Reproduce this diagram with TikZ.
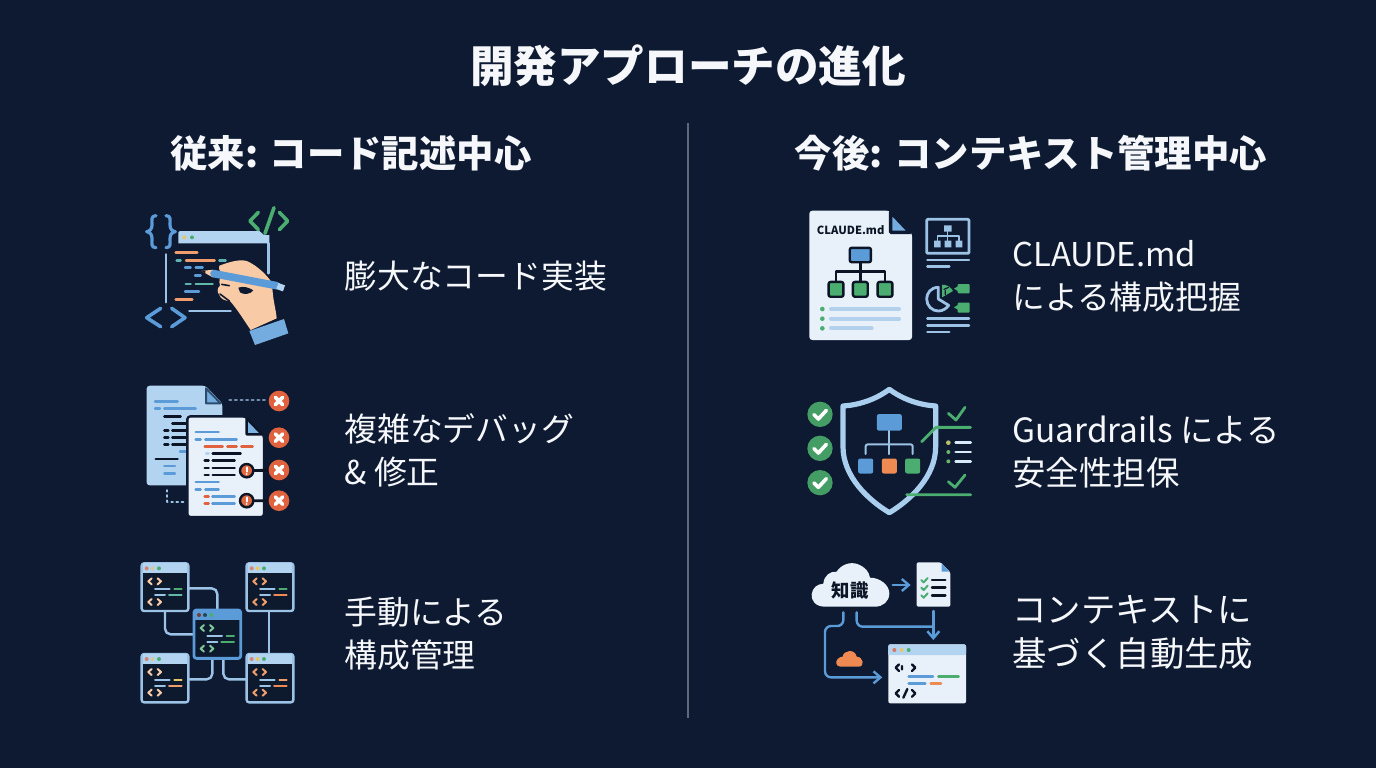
\documentclass[tikz,border=0pt]{standalone}
\usepackage{fontspec}
\usetikzlibrary{arrows.meta,calc}
\setmainfont{Noto Sans CJK JP}
\definecolor{bgc}{HTML}{0D1A31}
\definecolor{txt}{HTML}{F5F7FA}
\definecolor{divc}{HTML}{5D6878}
\definecolor{lblue}{HTML}{9CC3E6}
\definecolor{pblue}{HTML}{B3D4F0}
\definecolor{mblue}{HTML}{5B9BD8}
\definecolor{grn}{HTML}{4BAE70}
\definecolor{org}{HTML}{EE8A52}
\definecolor{red}{HTML}{E0623F}
\definecolor{paper}{HTML}{E8F1FA}
\definecolor{ink}{HTML}{0C1526}
\definecolor{peach}{HTML}{F8CBA6}
\definecolor{teal}{HTML}{5FB8A8}
\definecolor{yel}{HTML}{E6C766}
\definecolor{pane}{HTML}{0D1A2E}
\tikzset{
  ic/.style={x=0.16667pt,y=-0.16667pt},
  ln/.style={line width=#1*0.2pt,line cap=round,line join=round},
  ln/.default=6,
  bodytext/.style={text=txt,anchor=west,align=left,inner sep=0pt,font=\fontsize{16.4}{21.5}\selectfont},
  headtext/.style={text=txt,inner sep=0pt,font=\bfseries\fontsize{18.7}{22}\selectfont},
  win/.style={draw=lblue,ln=6,fill=pane,rounded corners=1.2pt},
}
% small window of the network icon: x, y, tag colour, two code colours, title colour, two dot colours
\newcommand{\netwin}[8]{%
  \fill[#6] (#1,#2) ++(3,-1) rectangle ++(134,31);
  \fill[#7] (#1+15,#2+15) circle (6);\fill[#8] (#1+33,#2+15) circle (6);\fill[grn] (#1+52,#2+15) circle (6);
  \draw[#3,ln=5] (#1+30,#2+45)--(#1+20,#2+54)--(#1+30,#2+63) (#1+48,#2+45)--(#1+58,#2+54)--(#1+48,#2+63);
  \draw[#3,ln=5] (#1+30,#2+107)--(#1+20,#2+116)--(#1+30,#2+125) (#1+48,#2+107)--(#1+58,#2+116)--(#1+48,#2+125);
  \draw[lblue,ln=5] (#1+40,#2+77)--(#1+84,#2+77) (#1+40,#2+95)--(#1+70,#2+95);
  \draw[#4,ln=5] (#1+98,#2+77)--(#1+120,#2+77);
  \draw[#5,ln=5] (#1+82,#2+95)--(#1+120,#2+95);
}
\begin{document}
\begin{tikzpicture}[x=0.5pt,y=-0.5pt]
\useasboundingbox (0,0) rectangle (1376,768);
\fill[bgc] (0,0) rectangle (1376,768);
\node[text=txt,inner sep=0pt,font=\bfseries\fontsize{21.8}{26}\selectfont] (title) at (688,66) {開発アプローチの進化};
\node[headtext] (headL) at (351,153) {従来: コード記述中心};
\node[headtext] (headR) at (1031,153) {今後: コンテキスト管理中心};
\coordinate (divT) at (688,123);
\coordinate (divB) at (688,718);
\draw[divc,line width=1pt] (divT) -- (divB);

\node[bodytext] (t1) at (344,276) {膨大なコード実装};
\node[bodytext] (t2) at (344,450.5) {複雑なデバッグ\\\& 修正};
\node[bodytext] (t3) at (344,633.5) {手動による\\構成管理};
\node[bodytext] (t4) at (1012,276) {CLAUDE.md\\による構成把握};
\node[bodytext,font=\fontsize{16.7}{21.5}\selectfont] (t5) at (1012,452) {Guardrails による\\安全性担保};
\node[bodytext,font=\fontsize{17.2}{22}\selectfont] (t6) at (1012,632) {コンテキストに\\基づく自動生成};

% ---------- icon 1
\begin{scope}[shift={(130,195)},ic]
\draw[mblue,ln=8] (78,62) .. controls (62,62) and (66,75) .. (66,90) .. controls (66,102) and (60,108) .. (50,110) .. controls (60,112) and (66,118) .. (66,130) .. controls (66,145) and (62,158) .. (78,158);
\draw[mblue,ln=8] (108,62) .. controls (124,62) and (120,75) .. (120,90) .. controls (120,102) and (126,108) .. (136,110) .. controls (126,112) and (120,118) .. (120,130) .. controls (120,145) and (124,158) .. (108,158);
\draw[grn,ln=9] (385,52)--(360,78)--(385,104) (432,38)--(405,115) (448,52)--(473,78)--(448,104);
\draw[lblue,ln=6] (108,178)--(108,322) (415,145)--(415,235) (178,348)--(302,348);
\fill[pblue] (145,113) to[out=90,in=180] (152,108) -- (388,108) -- (402,120) -- (418,120) -- (418,145) -- (145,145) -- cycle;
\fill[yel] (163,127) circle (6);
\fill[grn] (186,127) circle (6);
\begin{scope}[ln=6]
\draw[org!85!white] (137,172)--(202,172) (168,196)--(254,196) (137,313)--(187,313);
\draw[teal!80!mblue] (140,196)--(152,196) (268,196)--(287,196) (167,267)--(182,267);
\draw[mblue] (165,218)--(182,218) (197,218)--(218,218) (195,242)--(212,242) (165,290)--(207,290);
\draw[teal] (197,267)--(248,267);
\end{scope}
\draw[mblue,ln=9] (92,340)--(50,368)--(92,395) (125,340)--(165,368)--(125,395);
% hand
\fill[peach] (268,212) .. controls (300,200) and (335,190) .. (355,200) .. controls (385,215) and (410,240) .. (425,262) -- (428,290) .. controls (430,320) and (438,345) .. (440,370) -- (362,405) .. controls (345,380) and (320,340) .. (300,318) .. controls (285,318) and (272,312) .. (268,300) .. controls (260,290) and (262,278) .. (270,272) .. controls (265,255) and (270,245) .. (280,240) .. controls (270,232) and (265,222) .. (268,212) -- cycle;
\draw[bgc,ln=4] (275,268)--(298,272) (270,297)--(298,318);
\fill[bgc] (325,278) .. controls (340,272) and (358,278) .. (370,286) .. controls (362,298) and (340,300) .. (330,292) -- cycle;
\fill[mblue!70!pblue] (358,408)--(462,372)--(475,415)--(375,450)--cycle;
\fill[peach] (214,228)--(250,224)--(250,248)--cycle;
\fill[ink] (214,228)--(226,227)--(226,235)--cycle;
\draw[mblue,line width=3.8pt,line cap=round] (252,236)--(440,272);
\draw[pblue,line width=3.2pt,line cap=butt] (442,273)--(462,280);
\end{scope}

% ---------- icon 2
\begin{scope}[shift={(130,375)},ic]
\fill[pblue,rounded corners=1.5pt] (50,32)--(226,32)--(277,85)--(277,331)--(50,331)--cycle;
\draw[ink!60!mblue,fill=mblue!70!pblue,ln=5] (228,40)--(272,85)--(228,85)--cycle;
\draw[mblue,ln=6] (75,80)--(143,80) (75,101)--(90,101) (103,101)--(197,101) (150,229)--(195,229) (103,273)--(135,273) (103,295)--(135,295);
\draw[ink,ln=6] (103,124)--(152,124) (127,145)--(170,145) (103,166)--(115,166) (127,166)--(170,166) (103,188)--(115,188) (127,188)--(170,188) (103,209)--(115,209) (127,209)--(170,209) (77,252)--(143,252);
\draw[bgc,fill=paper,ln=6,rounded corners=1.5pt] (172,124)--(347,124)--(402,180)--(402,426)--(172,426)--cycle;
\draw[ink,fill=mblue!60!pblue,ln=6,line join=round] (350,130)--(396,178)--(350,178)--cycle;
\draw[mblue,ln=6] (197,171)--(266,171) (197,193)--(212,193) (226,193)--(320,193) (197,321)--(266,321) (197,343)--(212,343) (226,343)--(266,343) (247,365)--(314,365) (247,386)--(314,386);
\draw[pblue,ln=6] (228,236)--(236,236);
\draw[red,ln=6] (224,214)--(278,214) (292,214)--(320,214) (334,214)--(368,214) (224,365)--(236,365) (224,386)--(236,386);
\draw[ink,ln=6] (248,236)--(332,236) (224,257)--(236,257) (248,257)--(314,257) (224,279)--(236,279) (248,279)--(314,279) (224,300)--(236,300) (248,300)--(314,300);
\coordinate (xa) at (447,78);
\coordinate (xb) at (447,188);
\coordinate (xc) at (447,285);
\coordinate (xd) at (447,377);
\coordinate (ea) at (350,287);
\coordinate (eb) at (350,377);
\draw[ink,ln=7] (ea)--(xc) (eb)--(xd);
\draw[lblue!70!bgc,ln=5,dash pattern=on 1pt off 1.8pt] (298,76)--(405,76);
\draw[lblue,ln=5,dash pattern=on 0.8pt off 1.8pt] (112,345)--(112,380)--(160,380);
\foreach \p in {xa,xb,xc,xd}{
  \fill[red] (\p) circle (31);
  \draw[white,ln=9] ($(\p)+(-11,-11)$)--($(\p)+(11,11)$) ($(\p)+(-11,11)$)--($(\p)+(11,-11)$);
}
\foreach \p in {ea,eb}{
  \draw[ink,fill=red!85!org,ln=6] (\p) circle (20);
  \draw[white,ln=5] ($(\p)+(0,-10)$)--($(\p)+(0,3)$);
  \fill[white] ($(\p)+(0,10)$) circle (3);
}
\end{scope}

% ---------- icon 3
\begin{scope}[shift={(130,555)},ic]
\coordinate (wa) at (35,25);
\coordinate (wb) at (350,25);
\coordinate (wc) at (192,165);
\coordinate (wd) at (35,297);
\coordinate (we) at (350,297);
\draw[lblue,ln=6,rounded corners=2.8pt]
  (175,100)--(262,100)--(262,165)
  (105,168)--(105,238)--(192,238)
  (175,373)--(247,373)--(247,310)
  (280,310)--(280,373)--(350,373);
\draw[lblue,ln=6] (417,168)--(417,297);
\draw[win] (wa) rectangle ++(140,143);
\draw[win] (wb) rectangle ++(140,143);
\draw[win] (wd) rectangle ++(140,145);
\draw[win] (we) rectangle ++(140,145);
\draw[win,draw=mblue,ln=7] (wc) rectangle ++(140,145);
\netwin{35}{25}{peach}{grn}{teal}{pblue}{red!70!pblue}{yel!60!pblue}
\netwin{350}{25}{org!70!peach}{grn}{org}{pblue}{red!70!pblue}{yel}
\netwin{192}{165}{grn!70!white}{grn}{grn}{mblue}{red!50!ink}{teal!30!ink}
\netwin{35}{297}{peach}{yel}{org!70!peach}{pblue}{red!70!pblue}{yel!60!pblue}
\netwin{350}{297}{org!70!peach}{org!70!peach}{org}{pblue}{red!70!pblue}{yel}
\end{scope}

% ---------- icon 4
\begin{scope}[shift={(800,200)},ic]
\fill[paper,rounded corners=1.5pt] (28,32)--(268,32)--(336,100)--(336,420)--(28,420)--cycle;
\draw[bgc,ln=9,fill=mblue!70!pblue,line join=round] (272,36)--(330,97)--(272,97)--cycle;
\node[text=ink,inner sep=0pt,font=\bfseries\fontsize{5.6}{7}\selectfont] (claude) at (152,90) {CLAUDE.md};
\node[draw=ink,fill=mblue,ln=6,minimum width=10.6pt,minimum height=7.2pt,rounded corners=1pt,inner sep=0pt] (oa) at (181,165) {};
\node[draw=ink,fill=grn,ln=6,minimum width=7.4pt,minimum height=7.4pt,rounded corners=1pt,inner sep=0pt] (ob) at (108,268) {};
\node[draw=ink,fill=grn,ln=6,minimum width=7.4pt,minimum height=7.4pt,rounded corners=1pt,inner sep=0pt] (oc) at (181,268) {};
\node[draw=ink,fill=grn,ln=6,minimum width=7.4pt,minimum height=7.4pt,rounded corners=1pt,inner sep=0pt] (od) at (255,268) {};
\draw[ink,ln=6] (oa)--(oc) (ob.north)--(108,215)--(255,215)--(od.north);
\fill[grn] (67,327) circle (7) (67,356) circle (7) (67,385) circle (7);
\draw[lblue!70!paper,ln=10] (93,327)--(297,327) (93,356)--(297,356) (93,385)--(215,385);
\draw[lblue,ln=7,rounded corners=0.5pt] (380,58) rectangle (507,160);
\fill[lblue] (432,76) rectangle (455,95) (402,122) rectangle (422,142) (434,122) rectangle (454,142) (467,122) rectangle (487,142);
\draw[lblue,ln=4] (443,95)--(443,122) (412,122)--(412,108)--(477,108)--(477,122);
\draw[lblue,ln=6] (382,180)--(507,180) (382,200)--(448,200) (382,355)--(507,355) (382,376)--(507,376) (382,396)--(448,396);
\draw[lblue,ln=7] (415,262) .. controls (392,262) and (380,280) .. (380,297) .. controls (380,318) and (397,333) .. (415,333) .. controls (428,333) and (440,325) .. (446,316) -- (415,297) -- cycle;
\fill[grn] (426,254)--(426,292)--(459,273) .. controls (452,260) and (440,254) .. (426,254) -- cycle;
\draw[bgc,ln=3] (432,268)--(446,262) (436,272)--(436,284);
\fill[grn,rounded corners=0.5pt] (473,252) rectangle (509,280) (473,308) rectangle (509,338);
\fill[grn] (475,258)--(462,266)--(475,274)--cycle (475,314)--(462,322)--(475,330)--cycle;
\end{scope}

% ---------- icon 5
\begin{scope}[shift={(800,380)},ic]
\foreach \y in {103,205,308}{
  \fill[grn!90!black] (60,\y) circle (38);
  \draw[white,ln=9] (42,\y+1)--(55,\y+14)--(79,\y-12);
}
\draw[pblue!90!mblue,ln=13,line join=round] (268,28) .. controls (225,60) and (175,75) .. (129,78) -- (129,200) .. controls (129,290) and (205,360) .. (268,398) .. controls (331,360) and (407,290) .. (407,200) -- (407,78) .. controls (361,75) and (311,60) .. (268,28) -- cycle;
\node[fill=mblue,minimum width=12.5pt,minimum height=8.2pt,rounded corners=1pt,inner sep=0pt] (sa) at (268,127) {};
\node[fill=mblue,minimum width=7.5pt,minimum height=7.5pt,rounded corners=1pt,inner sep=0pt] (sb) at (197,258) {};
\node[fill=org,minimum width=7.5pt,minimum height=7.5pt,rounded corners=1pt,inner sep=0pt] (sc) at (268,258) {};
\node[fill=grn,minimum width=7.5pt,minimum height=7.5pt,rounded corners=1pt,inner sep=0pt] (sd) at (338,258) {};
\draw[lblue,ln=5] (sa.south)--(268,222);
\draw[lblue,ln=5,rounded corners=1pt] (197,222)--(197,193)--(338,193)--(338,222);
\draw[grn,ln=7] (445,100)--(468,120)--(495,82) (365,185)--(408,142)--(512,142) (445,305)--(465,322)--(495,285) (320,344)--(512,344);
\fill[yel!70!grn] (445,188) circle (7);
\fill[grn!80!yel] (445,216) circle (6) (445,244) circle (6);
\draw[pblue!50!white,ln=7] (467,188)--(512,188) (467,216)--(512,216) (467,244)--(512,244);
\end{scope}

% ---------- icon 6
\begin{scope}[shift={(800,555)},ic]
\fill[paper] (75,155) .. controls (45,155) and (33,135) .. (35,118) .. controls (37,98) and (52,87) .. (70,86) .. controls (72,62) and (90,48) .. (110,50) .. controls (122,30) and (150,18) .. (175,28) .. controls (195,36) and (207,50) .. (210,68) .. controls (240,68) and (268,90) .. (268,115) .. controls (268,140) and (248,155) .. (225,155) -- cycle;
\node[text=ink,inner sep=0pt,font=\bfseries\fontsize{9.2}{11}\selectfont] (know) at (150,108) {知識};
\fill[paper,rounded corners=0.7pt] (350,22)--(422,22)--(451,52)--(451,155)--(350,155)--cycle;
\fill[mblue] (425,25)--(448,50)--(425,50)--cycle;
\coordinate (arS) at (278,90);
\coordinate (arE) at (332,90);
\draw[mblue,ln=6,-{Straight Barb[length=3.5pt,width=6pt]}] (arS)--(arE);
\draw[grn,ln=5] (364,75)--(371,82)--(383,69) (364,98)--(371,105)--(383,92) (364,121)--(371,128)--(383,115);
\draw[ink,ln=6] (396,75)--(436,75) (396,98)--(436,98) (396,121)--(436,121);
\coordinate (dnS) at (400,168);
\coordinate (dn) at (400,255);
\draw[mblue,ln=6,-{Straight Barb[length=3.5pt,width=6pt]}] (dnS)--(dn);
\draw[mblue,ln=6,rounded corners=3pt] (170,172)--(170,215)--(400,215);
\coordinate (rt) at (247,367);
\draw[mblue,ln=6,rounded corners=3pt,-{Straight Barb[length=3.5pt,width=6pt]}] (130,172)--(130,213)--(75,213)--(75,367)--(rt);
\fill[org] (122,335) .. controls (108,335) and (105,320) .. (113,312) .. controls (118,305) and (124,306) .. (128,305) .. controls (130,285) and (165,280) .. (170,305) .. controls (190,305) and (196,335) .. (175,335) -- cycle;
\fill[paper,rounded corners=1pt] (265,268) rectangle (498,445);
\fill[pblue,rounded corners=1pt] (265,268) rectangle (498,300);
\fill[pblue] (265,285) rectangle (498,300);
\fill[red!80!pblue] (283,285) circle (6);
\fill[yel] (305,285) circle (6);
\fill[grn] (326,285) circle (6);
\draw[ink,ln=6] (297,328)--(287,338)--(297,348) (306,333)--(306,343) (336,328)--(346,338)--(336,348);
\draw[ink,ln=6] (297,405)--(287,415)--(297,425) (322,402)--(310,428) (336,405)--(346,415)--(336,425);
\draw[mblue,ln=6] (326,365)--(399,365) (326,386)--(376,386);
\draw[grn,ln=6] (415,365)--(476,365);
\draw[org,ln=6] (392,386)--(423,386);
\end{scope}
\end{tikzpicture}
\end{document}
